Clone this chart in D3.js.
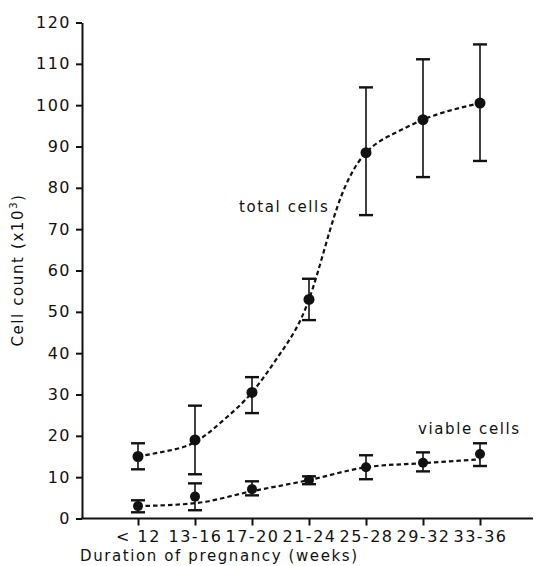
<!DOCTYPE html>
<head>
	<meta charset="utf-8">
	<title>Cell count vs duration of pregnancy</title>
	<style>
	body { margin: 0; background: #fff; }
	text { font-family: "DejaVu Sans", sans-serif; fill: #111; }
	.tick text { font-size: 16px; letter-spacing: 1.5px; }
	.axis path, .axis line { stroke: #111; }
	.curve { fill: none; stroke: #111; stroke-width: 2.2; stroke-dasharray: 4.5,3; }
	.err { stroke: #111; stroke-width: 1.6; }
	.cap { stroke: #111; stroke-width: 2.4; }
	.label { font-size: 15px; letter-spacing: 1.6px; }
	</style>
</head>
<body>
<script src="https://d3js.org/d3.v7.min.js"></script>
<script>

// categories on the x axis
var categories = ["< 12", "13-16", "17-20", "21-24", "25-28", "29-32", "33-36"];
var yTicks = [0, 10, 20, 30, 40, 50, 60, 70, 80, 90, 100, 110, 120];

// total cells: mean and error bar ends
var totalMean = [15, 19, 30.5, 53, 88.5, 96.5, 100.5];
var totalHigh = [18.2, 27.3, 34.2, 58, 104.3, 111.1, 114.7];
var totalLow  = [11.9, 10.7, 25.5, 48, 73.4, 82.6, 86.5];

// viable cells: mean and error bar ends
var viableMean = [3, 5.3, 7.1, 9.3, 12.4, 13.5, 15.6];
var viableHigh = [4.4, 8.5, 9, 10.2, 15.3, 16, 18.2];
var viableLow  = [1.5, 2, 5.6, 8.3, 9.5, 11.4, 12.7];

// fitted dashed curves (position in category steps, value)
var totalCurveAt = [0, 0.5, 1, 1.5, 2, 2.5, 3, 3.5, 4, 4.5, 5, 5.5, 6];
var totalCurve   = [15, 16.3, 18.5, 23.8, 30.5, 40, 53, 75.5, 88.5, 93.2, 96.5, 98.8, 100.5];
var viableCurveAt = [0, 1, 2, 3, 4, 5, 6];
var viableCurve   = [3, 3.7, 6.6, 9.3, 12.4, 13.4, 14.3];

var width = 539, height = 566;

var svg = d3.select("body")
	.append("svg")
	.attr("width", width)
	.attr("height", height);

var x = d3.scaleLinear().domain([0, 6]).range([138, 480]);
var y = d3.scaleLinear().domain([0, 120]).range([518.5, 22.5]);

// y axis
var yAxis = svg.append("g")
	.attr("class", "axis")
	.attr("transform", "translate(82,0)")
	.call(d3.axisLeft(y).tickValues(yTicks).tickSize(6).tickSizeOuter(0).tickPadding(5).tickFormat(d3.format("d")));
yAxis.select(".domain").attr("stroke-width", 2);
yAxis.selectAll(".tick line").attr("stroke-width", 2);

// x axis
var xAxis = svg.append("g")
	.attr("class", "axis")
	.attr("transform", "translate(0," + y(0) + ")")
	.call(d3.axisBottom(x).tickValues(d3.range(categories.length)).tickSize(7).tickPadding(5)
		.tickFormat(function(i) { return categories[i]; }));
xAxis.select(".domain").remove();
xAxis.selectAll(".tick line").attr("stroke-width", 2);

svg.append("line")
	.attr("x1", 81).attr("x2", 533)
	.attr("y1", y(0)).attr("y2", y(0))
	.attr("stroke", "#111")
	.attr("stroke-width", 2);

// axis titles
svg.append("text")
	.attr("class", "label")
	.attr("x", 80)
	.attr("y", 561)
	.text("Duration of pregnancy (weeks)");

svg.append("text")
	.attr("class", "label")
	.attr("transform", "translate(23,270) rotate(-90)")
	.attr("text-anchor", "middle")
	.html("Cell count (x10<tspan dy='-6' font-size='10'>3</tspan><tspan dy='6'>)</tspan>");

// dashed fitted curves
var line = d3.line()
	.x(function(d) { return x(d[0]); })
	.y(function(d) { return y(d[1]); })
	.curve(d3.curveNatural);

svg.append("path")
	.attr("class", "curve")
	.attr("d", line(d3.zip(totalCurveAt, totalCurve)));

svg.append("path")
	.attr("class", "curve")
	.attr("d", line.curve(d3.curveMonotoneX)(d3.zip(viableCurveAt, viableCurve)));

function drawSeries(mean, high, low, r) {
	var g = svg.append("g");
	var pts = mean.map(function(m, i) { return { i: i, m: m, hi: high[i], lo: low[i] }; });

	g.selectAll(".err")
		.data(pts)
		.enter().append("line")
		.attr("class", "err")
		.attr("x1", function(d) { return x(d.i); })
		.attr("x2", function(d) { return x(d.i); })
		.attr("y1", function(d) { return y(d.hi); })
		.attr("y2", function(d) { return y(d.lo); });

	["hi", "lo"].forEach(function(k) {
		g.selectAll(".cap-" + k)
			.data(pts)
			.enter().append("line")
			.attr("class", "cap")
			.attr("x1", function(d) { return x(d.i) - 7; })
			.attr("x2", function(d) { return x(d.i) + 7; })
			.attr("y1", function(d) { return y(d[k]); })
			.attr("y2", function(d) { return y(d[k]); });
	});

	g.selectAll("circle")
		.data(pts)
		.enter().append("circle")
		.attr("cx", function(d) { return x(d.i); })
		.attr("cy", function(d) { return y(d.m); })
		.attr("r", r)
		.attr("fill", "#111");
}

drawSeries(totalMean, totalHigh, totalLow, 5.5);
drawSeries(viableMean, viableHigh, viableLow, 5);

// series labels
svg.append("text")
	.attr("class", "label")
	.attr("x", 239)
	.attr("y", 212)
	.text("total cells");

svg.append("text")
	.attr("class", "label")
	.attr("x", 418)
	.attr("y", 434)
	.text("viable cells");

</script>
